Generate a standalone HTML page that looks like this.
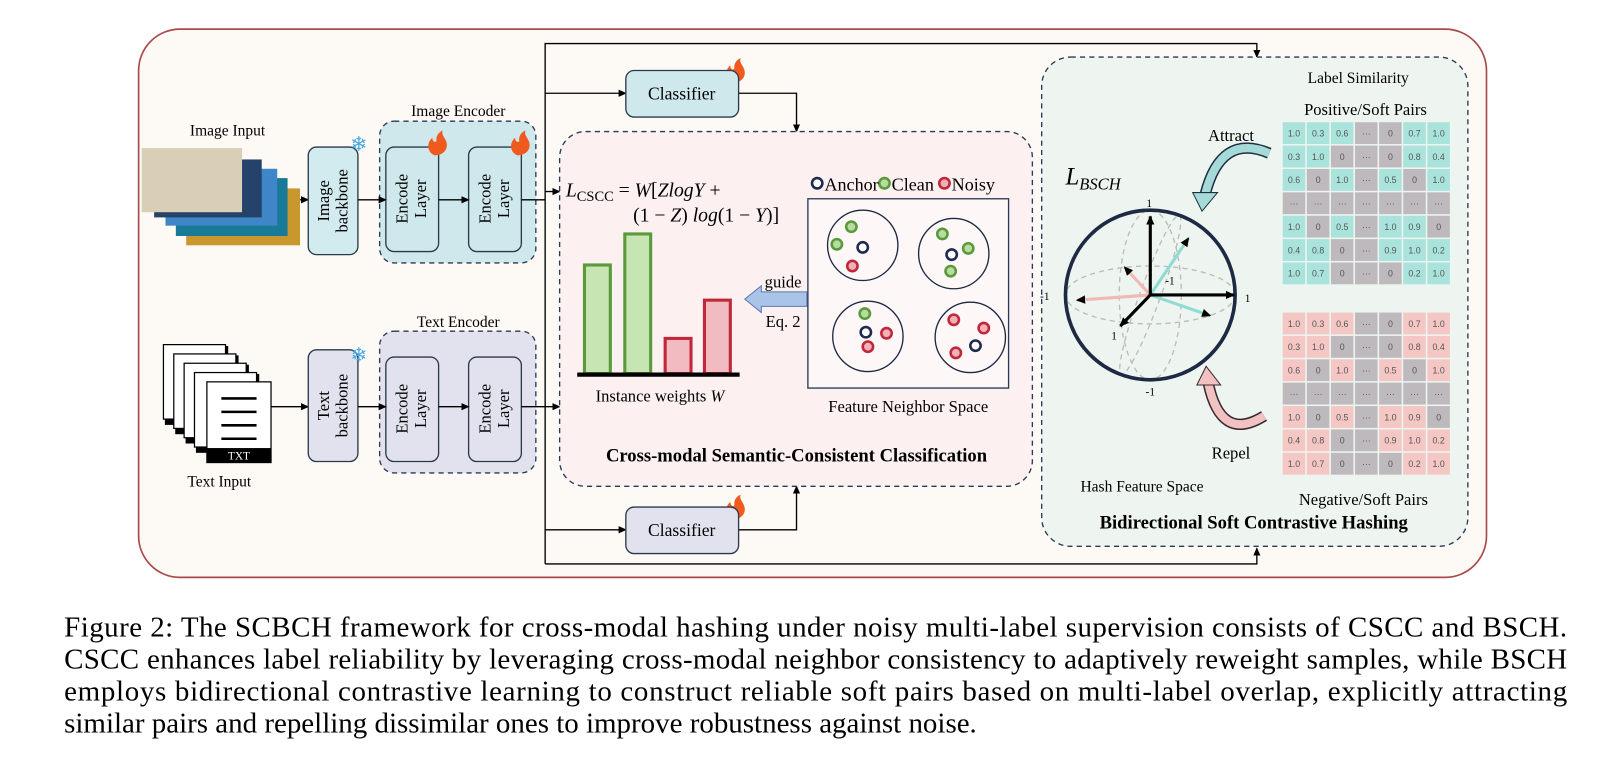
<!DOCTYPE html>
<html><head><meta charset="utf-8"><style>
html,body{margin:0;padding:0;background:#fff;}
svg{display:block;font-family:"Liberation Serif",serif;}
</style></head><body>
<svg width="1622" height="772" viewBox="0 0 1568 746" xmlns="http://www.w3.org/2000/svg">
<defs>
<marker id="ah" markerWidth="8" markerHeight="8" refX="7" refY="4" orient="auto" markerUnits="userSpaceOnUse"><path d="M0,0.5 L8,4 L0,7.5 z" fill="#000"/></marker>
<marker id="ah2" markerWidth="10" markerHeight="10" refX="8" refY="5" orient="auto" markerUnits="userSpaceOnUse"><path d="M0,1 L9,5 L0,9 z" fill="#000"/></marker>
</defs>
<rect x="0" y="0" width="1568" height="746" fill="#fff"/>
<rect x="134" y="28" width="1303" height="530" rx="40" fill="#fdf9f5" stroke="#a84a4a" stroke-width="1.6"/>

<!-- Image input -->
<text x="220" y="131" font-size="15" text-anchor="middle">Image Input</text>
<rect x="180" y="182" width="110" height="55" fill="#c8982e"/>
<rect x="170" y="172" width="108" height="56" fill="#187a97"/>
<rect x="160" y="163" width="108" height="55" fill="#3f86c9"/>
<rect x="149" y="154" width="104" height="56" fill="#24426a"/>
<rect x="137" y="143" width="97" height="62" fill="#d8cfb6"/>
<line x1="290" y1="193" x2="298" y2="193" stroke="#000" stroke-width="1.3" marker-end="url(#ah)"/>

<rect x="298" y="142" width="48" height="104" rx="8" fill="#d2ebee" stroke="#2a3a4a" stroke-width="1.3"/>
<text transform="translate(322,194) rotate(-90)" font-size="16" text-anchor="middle"><tspan x="0" y="-4">Image</tspan><tspan x="0" y="14">backbone</tspan></text>
<text x="347" y="146" font-size="20" fill="#4aa8e0" text-anchor="middle">❄</text>

<rect x="367" y="117" width="151" height="137" rx="14" fill="#cfe8ec" stroke="#2a3a55" stroke-width="1.3" stroke-dasharray="5,4"/>
<text x="443" y="112" font-size="15" text-anchor="middle">Image Encoder</text>
<rect x="373" y="142" width="51" height="101" rx="8" fill="#cfe8ec" stroke="#2a3a4a" stroke-width="1.3"/>
<rect x="453" y="142" width="51" height="101" rx="8" fill="#cfe8ec" stroke="#2a3a4a" stroke-width="1.3"/>
<text transform="translate(398,192) rotate(-90)" font-size="16" text-anchor="middle"><tspan x="0" y="-4">Encode</tspan><tspan x="0" y="14">Layer</tspan></text>
<text transform="translate(478,192) rotate(-90)" font-size="16" text-anchor="middle"><tspan x="0" y="-4">Encode</tspan><tspan x="0" y="14">Layer</tspan></text>
<line x1="346" y1="193" x2="373" y2="193" stroke="#000" stroke-width="1.3" marker-end="url(#ah)"/>
<line x1="424" y1="193" x2="453" y2="193" stroke="#000" stroke-width="1.3" marker-end="url(#ah)"/>
<line x1="504" y1="193" x2="527" y2="193" stroke="#000" stroke-width="1.3"/>

<!-- flames -->
<g fill="#f05a1e">
<path d="M420,150 c-7,-3 -8,-12 -2,-17 c0,4 3,5 4,3 c-1,-5 3,-9 6,-10 c-2,5 4,8 4,14 c0,6 -5,10 -12,10z"/>
<path d="M500,150 c-7,-3 -8,-12 -2,-17 c0,4 3,5 4,3 c-1,-5 3,-9 6,-10 c-2,5 4,8 4,14 c0,6 -5,10 -12,10z"/>
<path d="M420,354 c-7,-3 -8,-12 -2,-17 c0,4 3,5 4,3 c-1,-5 3,-9 6,-10 c-2,5 4,8 4,14 c0,6 -5,10 -12,10z"/>
<path d="M500,354 c-7,-3 -8,-12 -2,-17 c0,4 3,5 4,3 c-1,-5 3,-9 6,-10 c-2,5 4,8 4,14 c0,6 -5,10 -12,10z"/>
<path d="M708,80 c-7,-3 -8,-12 -2,-17 c0,4 3,5 4,3 c-1,-5 3,-9 6,-10 c-2,5 4,8 4,14 c0,6 -5,10 -12,10z"/>
<path d="M708,502 c-7,-3 -8,-12 -2,-17 c0,4 3,5 4,3 c-1,-5 3,-9 6,-10 c-2,5 4,8 4,14 c0,6 -5,10 -12,10z"/>
</g>

<!-- Text input -->
<g stroke="#000" stroke-width="1.2">
<rect x="160" y="335" width="60" height="75" fill="#000"/><rect x="158" y="333" width="60" height="72" fill="#fff"/>
<rect x="170" y="344" width="60" height="75" fill="#000"/><rect x="168" y="342" width="60" height="72" fill="#fff"/>
<rect x="180" y="353" width="60" height="75" fill="#000"/><rect x="178" y="351" width="60" height="72" fill="#fff"/>
<rect x="190" y="362" width="60" height="75" fill="#000"/><rect x="188" y="360" width="60" height="72" fill="#fff"/>
<rect x="200" y="369" width="62" height="78" fill="#fff"/>
</g>
<rect x="200" y="433" width="62" height="14" fill="#000"/>
<text x="231" y="444" font-size="11" fill="#fff" text-anchor="middle">TXT</text>
<g stroke="#000" stroke-width="2.5"><line x1="214" y1="385" x2="248" y2="385"/><line x1="214" y1="398" x2="248" y2="398"/><line x1="214" y1="411" x2="248" y2="411"/><line x1="214" y1="424" x2="248" y2="424"/></g>
<text x="212" y="470" font-size="15" text-anchor="middle">Text Input</text>
<line x1="262" y1="393" x2="298" y2="393" stroke="#000" stroke-width="1.3" marker-end="url(#ah)"/>

<rect x="298" y="338" width="48" height="108" rx="8" fill="#e2e2ee" stroke="#2a3a4a" stroke-width="1.3"/>
<text transform="translate(322,392) rotate(-90)" font-size="16" text-anchor="middle"><tspan x="0" y="-4">Text</tspan><tspan x="0" y="14">backbone</tspan></text>
<text x="347" y="350" font-size="20" fill="#4aa8e0" text-anchor="middle">❄</text>
<rect x="367" y="320" width="151" height="137" rx="14" fill="#e2e2ee" stroke="#2a3a55" stroke-width="1.3" stroke-dasharray="5,4"/>
<text x="443" y="316" font-size="15" text-anchor="middle">Text Encoder</text>
<rect x="373" y="345" width="51" height="101" rx="8" fill="#e2e2ee" stroke="#2a3a4a" stroke-width="1.3"/>
<rect x="453" y="345" width="51" height="101" rx="8" fill="#e2e2ee" stroke="#2a3a4a" stroke-width="1.3"/>
<text transform="translate(398,395) rotate(-90)" font-size="16" text-anchor="middle"><tspan x="0" y="-4">Encode</tspan><tspan x="0" y="14">Layer</tspan></text>
<text transform="translate(478,395) rotate(-90)" font-size="16" text-anchor="middle"><tspan x="0" y="-4">Encode</tspan><tspan x="0" y="14">Layer</tspan></text>
<line x1="346" y1="393" x2="373" y2="393" stroke="#000" stroke-width="1.3" marker-end="url(#ah)"/>
<line x1="424" y1="393" x2="453" y2="393" stroke="#000" stroke-width="1.3" marker-end="url(#ah)"/>
<line x1="504" y1="393" x2="527" y2="393" stroke="#000" stroke-width="1.3"/>

<!-- main connectors -->
<g stroke="#000" stroke-width="1.3" fill="none">
<polyline points="527,545 527,42 1215,42 1215,55" marker-end="url(#ah)"/>
<polyline points="527,545 1215,545 1215,530" marker-end="url(#ah)"/>
<line x1="527" y1="90" x2="605" y2="90" marker-end="url(#ah)"/>
<line x1="527" y1="512" x2="605" y2="512" marker-end="url(#ah)"/>
<polyline points="714,90 770,90 770,127" marker-end="url(#ah)"/>
<polyline points="714,512 770,512 770,470" marker-end="url(#ah)"/>
<line x1="527" y1="185" x2="541" y2="185" marker-end="url(#ah)"/>
<line x1="527" y1="393" x2="541" y2="393" marker-end="url(#ah)"/>
</g>
<rect x="605" y="68" width="109" height="45" rx="8" fill="#cfe8ec" stroke="#2a3a4a" stroke-width="1.3"/>
<text x="659" y="96" font-size="17" text-anchor="middle">Classifier</text>
<rect x="605" y="490" width="109" height="45" rx="8" fill="#e2e2ee" stroke="#2a3a4a" stroke-width="1.3"/>
<text x="659" y="518" font-size="17" text-anchor="middle">Classifier</text>

<!-- CSCC -->
<rect x="541" y="127" width="457" height="343" rx="25" fill="#fcf1f0" stroke="#2a3a55" stroke-width="1.3" stroke-dasharray="5,4"/>
<text x="547" y="190" font-size="19"><tspan font-style="italic">L</tspan><tspan font-size="14" dy="4">CSCC</tspan><tspan dy="-4"> = </tspan><tspan font-style="italic">W</tspan>[<tspan font-style="italic">ZlogY</tspan> +</text>
<text x="612" y="214" font-size="19">(1 − <tspan font-style="italic">Z</tspan>) <tspan font-style="italic">log</tspan>(1 − <tspan font-style="italic">Y</tspan>)]</text>
<g stroke-width="3">
<rect x="565" y="256" width="25" height="105" fill="#c7e4b3" stroke="#5a9a3a"/>
<rect x="604" y="226" width="25" height="135" fill="#c7e4b3" stroke="#5a9a3a"/>
<rect x="643" y="327" width="25" height="34" fill="#f2bac1" stroke="#c0283a"/>
<rect x="681" y="290" width="25" height="71" fill="#f2bac1" stroke="#c0283a"/>
</g>
<line x1="558" y1="362" x2="715" y2="362" stroke="#000" stroke-width="4"/>
<text x="638" y="388" font-size="16" text-anchor="middle">Instance weights <tspan font-style="italic">W</tspan></text>
<path d="M780,282 L736,282 L736,276 L720,289 L736,302 L736,296 L780,296 z" fill="#a9c4e8" stroke="#5a7ab0" stroke-width="1"/>
<text x="757" y="278" font-size="16" text-anchor="middle">guide</text>
<text x="757" y="316" font-size="16" text-anchor="middle">Eq. 2</text>

<rect x="781" y="192" width="194" height="183" fill="#fdf7f7" stroke="#2a3a55" stroke-width="1.3"/>
<text x="878" y="398" font-size="16" text-anchor="middle">Feature Neighbor Space</text>
<g stroke-width="2.5">
<circle cx="790" cy="177" r="5" fill="#fff" stroke="#1e2a50"/>
<circle cx="855" cy="177" r="5" fill="#b8dca0" stroke="#5a9a3a"/>
<circle cx="913" cy="177" r="5" fill="#f2b0b8" stroke="#c0283a"/>
</g>
<text x="797" y="184" font-size="17.5">Anchor</text>
<text x="862" y="184" font-size="17.5">Clean</text>
<text x="920" y="184" font-size="17.5">Noisy</text>
<g fill="none" stroke="#1e2a44" stroke-width="1.3">
<circle cx="834" cy="237" r="34"/><circle cx="922" cy="245" r="34"/>
<circle cx="839" cy="325" r="34"/><circle cx="938" cy="326" r="34"/>
</g>
<g stroke-width="2.5">
<g fill="#b8dca0" stroke="#5a9a3a">
<circle cx="823" cy="219" r="5"/><circle cx="809" cy="236" r="5"/>
<circle cx="911" cy="226" r="5"/><circle cx="936" cy="240" r="5"/><circle cx="919" cy="262" r="5"/>
<circle cx="836" cy="303" r="5"/>
</g>
<g fill="#f2b0b8" stroke="#c0283a">
<circle cx="824" cy="257" r="5"/>
<circle cx="857" cy="322" r="5"/><circle cx="839" cy="335" r="5"/>
<circle cx="922" cy="309" r="5"/><circle cx="951" cy="317" r="5"/><circle cx="924" cy="341" r="5"/>
</g>
<g fill="#fff" stroke="#1e2a50">
<circle cx="834" cy="239" r="5"/><circle cx="920" cy="246" r="5"/><circle cx="837" cy="321" r="5"/><circle cx="943" cy="334" r="5"/>
</g>
</g>
<text x="770" y="446" font-size="18" font-weight="bold" text-anchor="middle">Cross-modal Semantic-Consistent Classification</text>

<!-- BSCH -->
<rect x="1007" y="55" width="412" height="473" rx="28" fill="#eef5f0" stroke="#2a3a55" stroke-width="1.3" stroke-dasharray="5,4"/>
<text x="1313" y="80" font-size="15" text-anchor="middle">Label Similarity</text>
<text x="1320" y="111" font-size="16" text-anchor="middle">Positive/Soft Pairs</text>
<text x="1318" y="488" font-size="16" text-anchor="middle">Negative/Soft Pairs</text>
<text x="1104" y="475" font-size="15" text-anchor="middle">Hash Feature Space</text>
<text x="1190" y="136" font-size="16" text-anchor="middle">Attract</text>
<text x="1190" y="443" font-size="16" text-anchor="middle">Repel</text>
<text x="1212" y="511" font-size="18" font-weight="bold" text-anchor="middle">Bidirectional Soft Contrastive Hashing</text>
<text x="1030" y="178" font-size="24" font-style="italic">L<tspan font-size="16" dy="5">BSCH</tspan></text>

<g id="m1" font-family="Liberation Sans,sans-serif" font-size="8.5" text-anchor="middle" fill="#555"></g>
<g id="m2" font-family="Liberation Sans,sans-serif" font-size="8.5" text-anchor="middle" fill="#555"></g>

<path d="M1227,148 Q1180,128 1165,188" fill="none" stroke="#1e3040" stroke-width="11"/>
<path d="M1227,148 Q1180,128 1165,188" fill="none" stroke="#a6dad8" stroke-width="8"/>
<path d="M1153,186 L1177,186 L1162,204 z" fill="#a6dad8" stroke="#1e3040" stroke-width="1"/>
<path d="M1222,402 Q1180,428 1168,370" fill="none" stroke="#3a2a30" stroke-width="11"/>
<path d="M1222,402 Q1180,428 1168,370" fill="none" stroke="#f2c2c2" stroke-width="8"/>
<path d="M1157,372 L1180,372 L1166,354 z" fill="#f2c2c2" stroke="#3a2a30" stroke-width="1"/>

<g fill="none" stroke="#bbb" stroke-width="1.3" stroke-dasharray="5,4">
<ellipse cx="1112" cy="285" rx="82" ry="28"/>
<ellipse cx="1112" cy="285" rx="30" ry="82"/>
<ellipse cx="1112" cy="285" rx="10" ry="82" transform="rotate(20 1112 285)"/>
</g>
<circle cx="1112" cy="285" r="82" fill="none" stroke="#1e2a44" stroke-width="3.5"/>
<g stroke-width="3">
<line x1="1112" y1="285" x2="1041" y2="290" stroke="#f2b8b4" marker-end="url(#ah2)"/>
<line x1="1112" y1="285" x2="1087" y2="258" stroke="#f2b8b4" marker-end="url(#ah2)"/>
<line x1="1112" y1="285" x2="1149" y2="230" stroke="#8fdcd2" marker-end="url(#ah2)"/>
<line x1="1112" y1="285" x2="1170" y2="305" stroke="#8fdcd2" marker-end="url(#ah2)"/>
<line x1="1112" y1="285" x2="1112" y2="209" stroke="#000" marker-end="url(#ah2)"/>
<line x1="1112" y1="285" x2="1193" y2="285" stroke="#000" marker-end="url(#ah2)"/>
<line x1="1112" y1="285" x2="1083" y2="315" stroke="#000" marker-end="url(#ah2)"/>
</g>
<g font-size="11" text-anchor="middle">
<text x="1111" y="200">1</text><text x="1010" y="290">-1</text><text x="1206" y="292">1</text>
<text x="1077" y="328">1</text><text x="1131" y="275">-1</text><text x="1112" y="382">-1</text>
</g>

<!-- caption -->
<g font-size="28">
<text x="62" y="615" textLength="1453" lengthAdjust="spacing">Figure 2: The SCBCH framework for cross-modal hashing under noisy multi-label supervision consists of CSCC and BSCH.</text>
<text x="62" y="646" textLength="1453" lengthAdjust="spacing">CSCC enhances label reliability by leveraging cross-modal neighbor consistency to adaptively reweight samples, while BSCH</text>
<text x="62" y="677" textLength="1453" lengthAdjust="spacing">employs bidirectional contrastive learning to construct reliable soft pairs based on multi-label overlap, explicitly attracting</text>
<text x="62" y="708">similar pairs and repelling dissimilar ones to improve robustness against noise.</text>
</g>
</svg>
<script>
(function(){
var rows=[["1.0","0.3","0.6","···","0","0.7","1.0"],["0.3","1.0","0","···","0","0.8","0.4"],["0.6","0","1.0","···","0.5","0","1.0"],["···","···","···","···","···","···","···"],["1.0","0","0.5","···","1.0","0.9","0"],["0.4","0.8","0","···","0.9","1.0","0.2"],["1.0","0.7","0","···","0","0.2","1.0"]];
function build(id,y0,col){
var g=document.getElementById(id),x0=1240,w=23.3,h=22.6,s="";
for(var r=0;r<7;r++)for(var c=0;c<7;c++){var v=rows[r][c];var f=(v=="0"||v=="···")?"#bdb9bd":col;
s+='<rect x="'+(x0+c*w)+'" y="'+(y0+r*h)+'" width="'+(w-1.5)+'" height="'+(h-1.5)+'" fill="'+f+'"/>';
s+='<text x="'+(x0+c*w+w/2-0.7)+'" y="'+(y0+r*h+h/2+2.5)+'">'+v+'</text>';}
g.innerHTML=s;}
build("m1",118,"#a9e3dc");build("m2",302,"#f4c7c4");
})();
</script>
</body></html>
